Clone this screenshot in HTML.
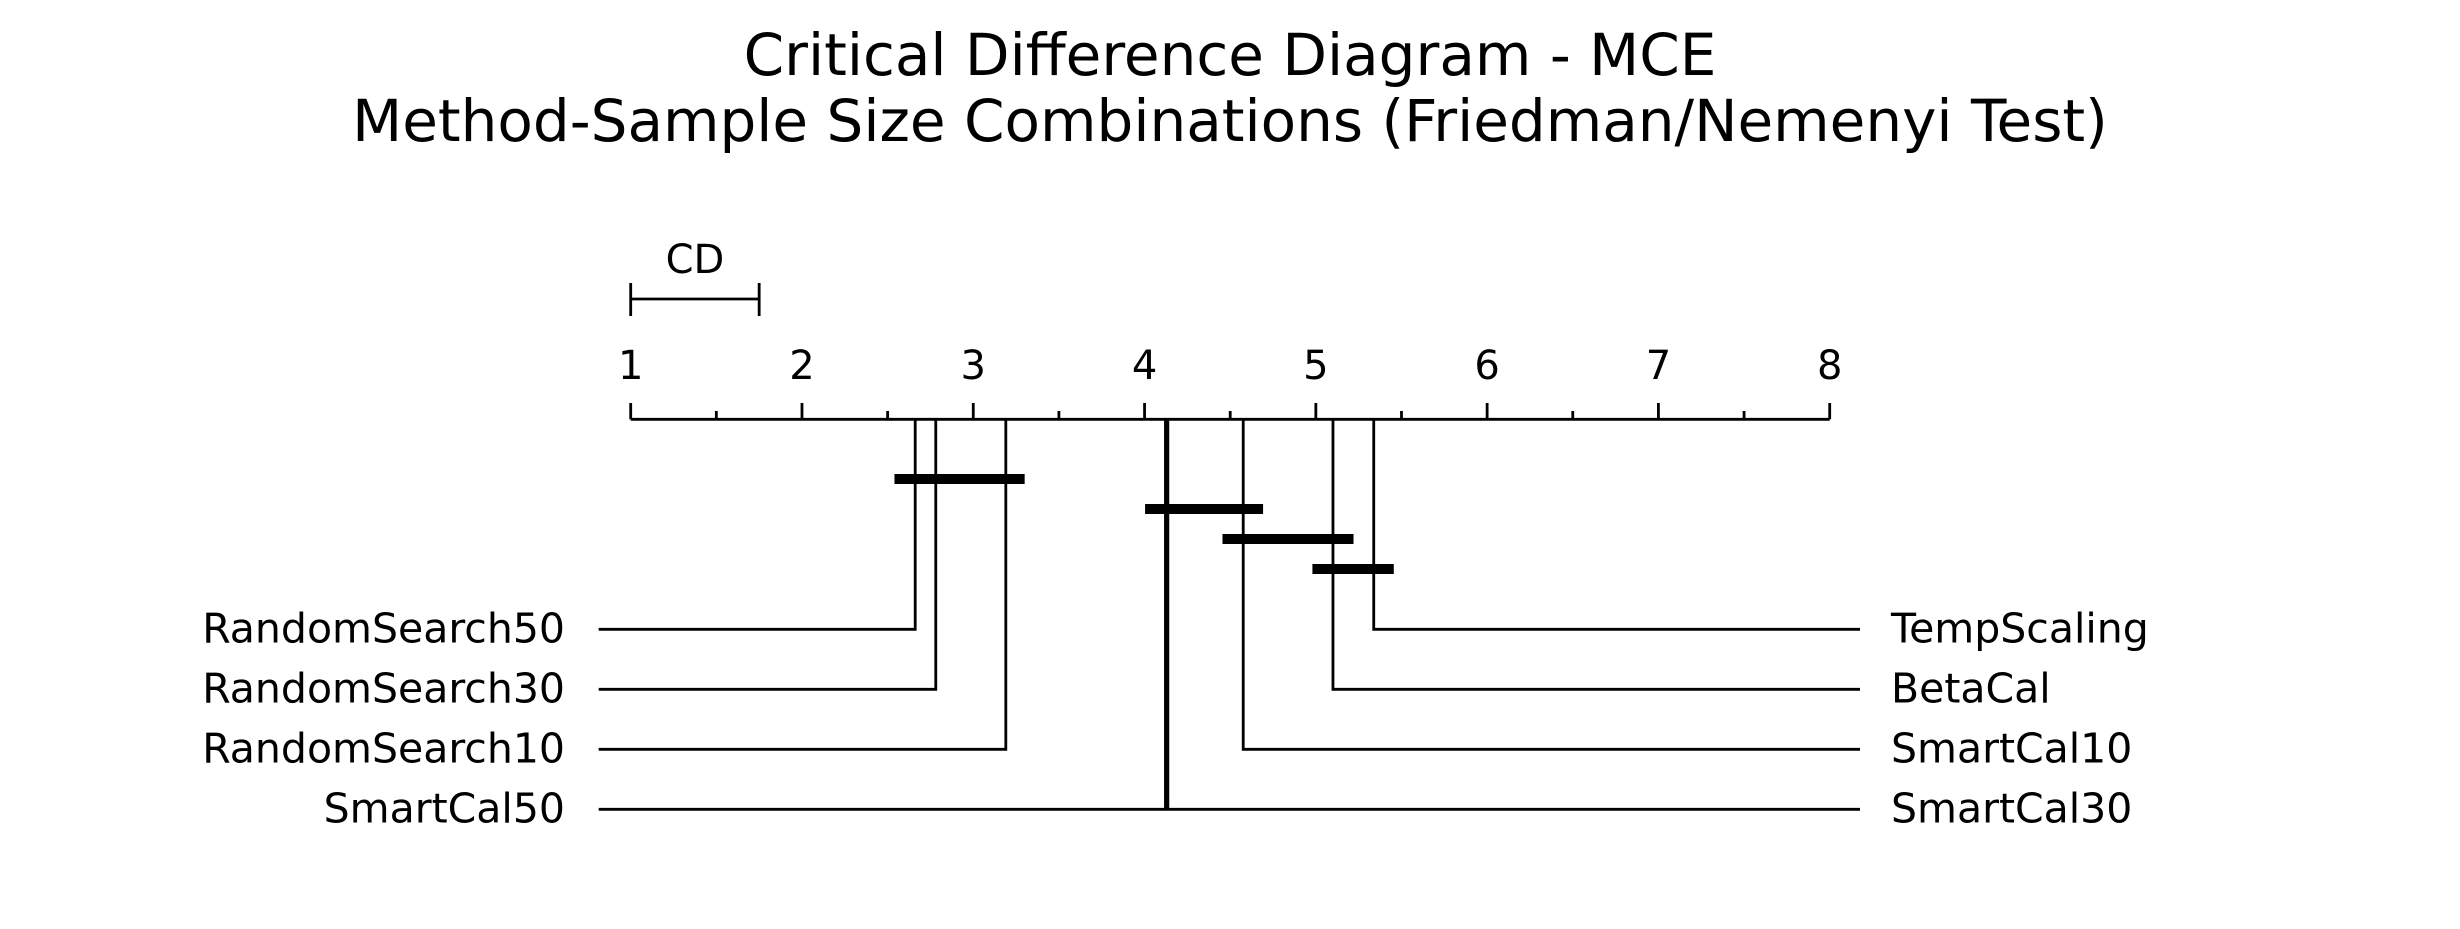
<!DOCTYPE html>
<html><head><meta charset="utf-8"><title>Critical Difference Diagram - MCE</title>
<style>html,body{margin:0;padding:0;background:#fff;}svg{display:block;font-family:"DejaVu Sans","Liberation Sans",sans-serif;}</style>
</head><body>
<svg id="chart" width="2460" height="929" viewBox="0 0 2460 929" xmlns="http://www.w3.org/2000/svg">
<rect width="2460" height="929" fill="#fff"/>
<text x="1230" y="75" text-anchor="middle" font-size="58">Critical Difference Diagram - MCE</text>
<text x="1230" y="141" text-anchor="middle" font-size="58">Method-Sample Size Combinations (Friedman/Nemenyi Test)</text>
<g id="plot"></g>
</svg>
<script>
const leftNames = ["RandomSearch50","RandomSearch30","RandomSearch10","SmartCal50"];
const leftRanks = [2.661, 2.781, 3.19, 4.122];
const rightNames = ["TempScaling","BetaCal","SmartCal10","SmartCal30"];
const rightRanks = [5.338, 5.10, 4.576, 4.136];
const cliqueLow = [2.54, 4.003, 4.455, 4.98];
const cliqueHigh = [3.30, 4.692, 5.22, 5.455];
const tickLabels = ["1","2","3","4","5","6","7","8"];
const cdValue = 0.75;

const NS = "http://www.w3.org/2000/svg";
const g = document.getElementById('plot');
const x0 = 630.7, x1 = 1829.7, rMin = 1, rMax = 8;
const xs = r => x0 + (r - rMin) / (rMax - rMin) * (x1 - x0);
const axisY = 419.3;
const rowY = i => 629.3 + i * 60;
const cliqueY = i => 479 + i * 30;
function mk(tag, attrs, parent){const e=document.createElementNS(NS,tag);for(const k in attrs)e.setAttribute(k,attrs[k]);(parent||g).appendChild(e);return e;}

let e = mk('line',{x1:x0,x2:x1,y1:axisY,y2:axisY,stroke:'#000','stroke-width':2.8});


for(let i=0;i<=(rMax-rMin)*2;i++){
  const r = rMin + i/2, major = i%2===0;
  e = mk('line',{x1:xs(r),x2:xs(r),y1:major?403:411,y2:axisY,stroke:'#000','stroke-width':2.8});
  
  
}
tickLabels.forEach((t,i)=>{
  const el = mk('text',{x:xs(rMin+i),y:379,'text-anchor':'middle','font-size':40});
  el.textContent = t;
  
  
});
const cdG = mk('g',{});


const cx1 = xs(rMin), cx2 = xs(rMin+cdValue);
mk('line',{x1:cx1,x2:cx2,y1:299,y2:299,stroke:'#000','stroke-width':2.8},cdG);
mk('line',{x1:cx1,x2:cx1,y1:283,y2:316,stroke:'#000','stroke-width':2.8},cdG);
mk('line',{x1:cx2,x2:cx2,y1:283,y2:316,stroke:'#000','stroke-width':2.8},cdG);
const cdt = mk('text',{x:(cx1+cx2)/2,y:273,'text-anchor':'middle','font-size':40},cdG);
cdt.textContent = 'CD';



function method(name, rank, i, side){
  const grp = mk('g',{});
  
  
  const x = xs(rank), y = rowY(i);
  mk('polyline',{points:`${x},${axisY} ${x},${y} ${side<0?598.7:1860},${y}`,fill:'none',stroke:'#000','stroke-width':2.8},grp);
  const t = mk('text',{x:side<0?565:1891,y:y+13,'text-anchor':side<0?'end':'start','font-size':41},grp);
  t.textContent = name;
  
  
}
leftNames.forEach((n,i)=>method(n,leftRanks[i],i,-1));
rightNames.forEach((n,i)=>method(n,rightRanks[i],i,1));

cliqueLow.forEach((lo,i)=>{
  const el = mk('line',{x1:xs(lo),x2:xs(cliqueHigh[i]),y1:cliqueY(i),y2:cliqueY(i),stroke:'#000','stroke-width':10});
  
  
});
</script>
</body></html>
